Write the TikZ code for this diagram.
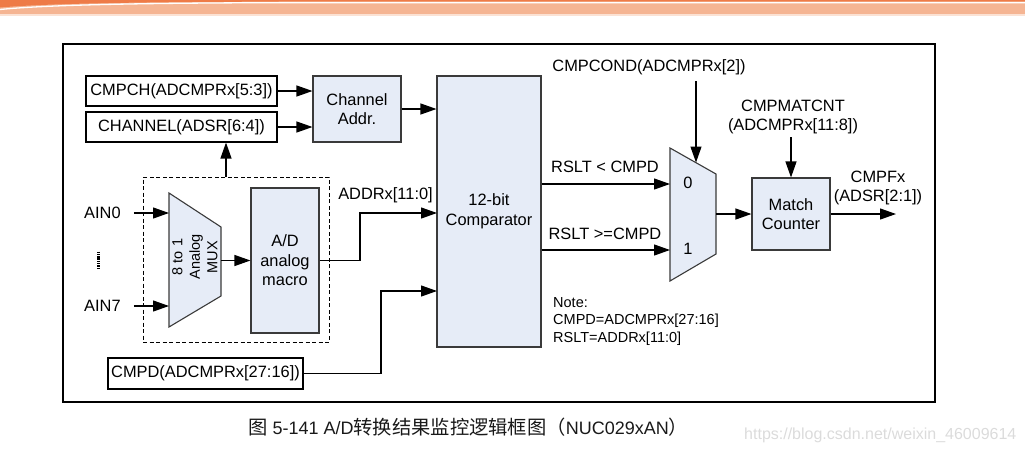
\documentclass[tikz,border=0pt]{standalone}
\usepackage{fontspec}
\setmainfont{Liberation Sans}
\newfontfamily\cjk{Noto Sans CJK SC}
\newcommand\cjkt{\cjk\fontsize{19.3}{22}\selectfont}
\usetikzlibrary{arrows.meta}
\definecolor{boxfill}{HTML}{E6ECF7}
\definecolor{boxline}{HTML}{3A3A3A}
\definecolor{orgdark}{HTML}{EE7B47}
\definecolor{orglight}{HTML}{F5B593}
\definecolor{orgpale}{HTML}{FBE2D4}
\begin{document}
\begin{tikzpicture}[x=1pt,y=-1pt,
  box/.style={draw=boxline, fill=boxfill, line width=1.1pt, inner sep=0, align=center, font=\fontsize{16.4}{19.5}\selectfont},
  wbox/.style={draw=black, fill=white, line width=1.1pt, inner sep=0, font=\fontsize{16.4}{19.5}\selectfont},
  lab/.style={inner sep=0, align=center, font=\fontsize{16.4}{19.5}\selectfont},
  arr/.style={line width=1.2pt, -{Triangle[length=16pt,width=11pt]}},
  muxshape/.style={draw=boxline, fill=boxfill, line width=1.1pt, line join=miter}]
\useasboundingbox (0,0) rectangle (1025,453);
% top decoration
\fill[orglight] (0,0) rectangle (1025,14);
\fill[orgpale] (0,14) rectangle (1025,15.5);
\fill[orgdark] (0,0) -- (1025,0) -- (1025,1.6) -- (300,1.6) .. controls (120,1.8) and (40,4) .. (0,7.5) -- cycle;
\draw[white, line width=1.3pt] (1025,2.6) -- (300,2.6) .. controls (120,2.9) and (40,5.5) .. (0,9.5);
% frame
\node[draw=black, line width=1.1pt, minimum width=872pt, minimum height=358pt, inner sep=0] (frame) at (499,223) {};
% boxes
\node[wbox, minimum width=191pt, minimum height=30pt] (cmpch) at (181.5,91) {CMPCH(ADCMPRx[5:3])};
\node[wbox, minimum width=191pt, minimum height=30pt] (chan) at (181.5,127) {CHANNEL(ADSR[6:4])};
\node[box, minimum width=88pt, minimum height=66pt] (addr) at (357,109) {Channel\\Addr.};
\node[box, minimum width=104pt, minimum height=271pt] (comp) at (489,211.5) {12-bit\\Comparator};
\node[draw=black, line width=0.9pt, dash pattern=on 4pt off 2.5pt, minimum width=186pt, minimum height=165pt, inner sep=0] (dbox) at (236,259.5) {};
\node[box, minimum width=68pt, minimum height=145pt] (ad) at (285,260.5) {A/D\\analog\\macro};
\node[wbox, minimum width=195pt, minimum height=31pt] (cmpd) at (205.5,373.5) {CMPD(ADCMPRx[27:16])};
\node[box, minimum width=78pt, minimum height=72pt] (match) at (791,214) {Match\\Counter};
% muxes
\draw[muxshape] (169,193) -- (221,227) -- (221,296) -- (169,327) -- cycle;
\node[lab, rotate=90, font=\fontsize{14.5}{17.5}\selectfont] (muxtxt) at (195,257) {8 to 1\\Analog\\MUX};
\draw[muxshape] (670,148) -- (716,174) -- (716,254) -- (670,281) -- cycle;
\node[lab] (zero) at (688,183) {0};
\node[lab] (one) at (688,249) {1};
% coordinates
\coordinate (mux1in0) at (169,213);
\coordinate (mux1in7) at (169,306);
\coordinate (mux1out) at (221,260.5);
\coordinate (dtop) at (226,177);
\coordinate (j1) at (360,0);
\coordinate (c1) at (437,213);
\coordinate (j2) at (381,0);
\coordinate (c2) at (437,291);
\coordinate (m0) at (670,184);
\coordinate (m1) at (670,250);
\coordinate (condsrc) at (696,81);
\coordinate (mtop) at (696,162.5);
\coordinate (mout) at (716,214);
\coordinate (cntsrc) at (791,137);
\coordinate (outend) at (896,214);
\coordinate (dtopA) at (98,251.5);
\coordinate (dbotA) at (98,268.5);
% labels
\node[lab, anchor=west] (ain0) at (84,213) {AIN0};
\node[lab, anchor=west] (ain7) at (84,306) {AIN7};
\node[lab] (addrx) at (385.5,195) {ADDRx[11:0]};
\node[lab] (lt) at (605,167) {RSLT < CMPD};
\node[lab] (ge) at (605,234) {RSLT >=CMPD};
\node[lab] (cond) at (649,67) {CMPCOND(ADCMPRx[2])};
\node[lab] (matcnt) at (793,117) {CMPMATCNT\\(ADCMPRx[11:8])};
\node[lab] (cmpf) at (878,188) {CMPFx\\(ADSR[2:1])};
\node[lab, anchor=west, align=left, font=\fontsize{14.5}{17.5}\selectfont] (note) at (553,321.5) {Note:\\CMPD=ADCMPRx[27:16]\\RSLT=ADDRx[11:0]};
% dots
\draw[line width=3pt, dash pattern=on 1.4pt off 0.9pt] (dtopA) -- (dbotA);
% connectors
\draw[arr] ([xshift=13pt]ain0.east) -- (mux1in0);
\draw[arr] ([xshift=13pt]ain7.east) -- (mux1in7);
\draw[arr] (mux1out) -- (ad.west);
\draw[arr] (cmpch.east) -- (cmpch.east -| addr.west);
\draw[arr] (chan.east) -- (chan.east -| addr.west);
\draw[arr] (addr.east) -- (addr.east -| comp.west);
\draw[arr] (dtop) -- (dtop |- chan.south);
\draw[arr] (ad.east) -- (ad.east -| j1) |- (c1);
\draw[arr] (cmpd.east) -- (cmpd.east -| j2) |- (c2);
\draw[arr] (comp.east |- m0) -- (m0);
\draw[arr] (comp.east |- m1) -- (m1);
\draw[arr] (condsrc) -- (mtop);
\draw[arr] (mout) -- (match.west);
\draw[arr] (cntsrc) -- (match.north);
\draw[arr] (match.east) -- (outend);
% caption
\node[anchor=west, inner sep=0, font=\fontsize{18}{22}\selectfont, text=black!90] (cap) at (248,427) {{\cjkt 图} 5-141 A/D{\cjkt 转换结果监控逻辑框图（}NUC029xAN{\cjkt ）}};
\node[anchor=west, inner sep=0, text=black!14, font=\fontsize{16}{20}\selectfont] (wm) at (744,435) {https://blog.csdn.net/weixin\_46009614};
\end{tikzpicture}
\end{document}
